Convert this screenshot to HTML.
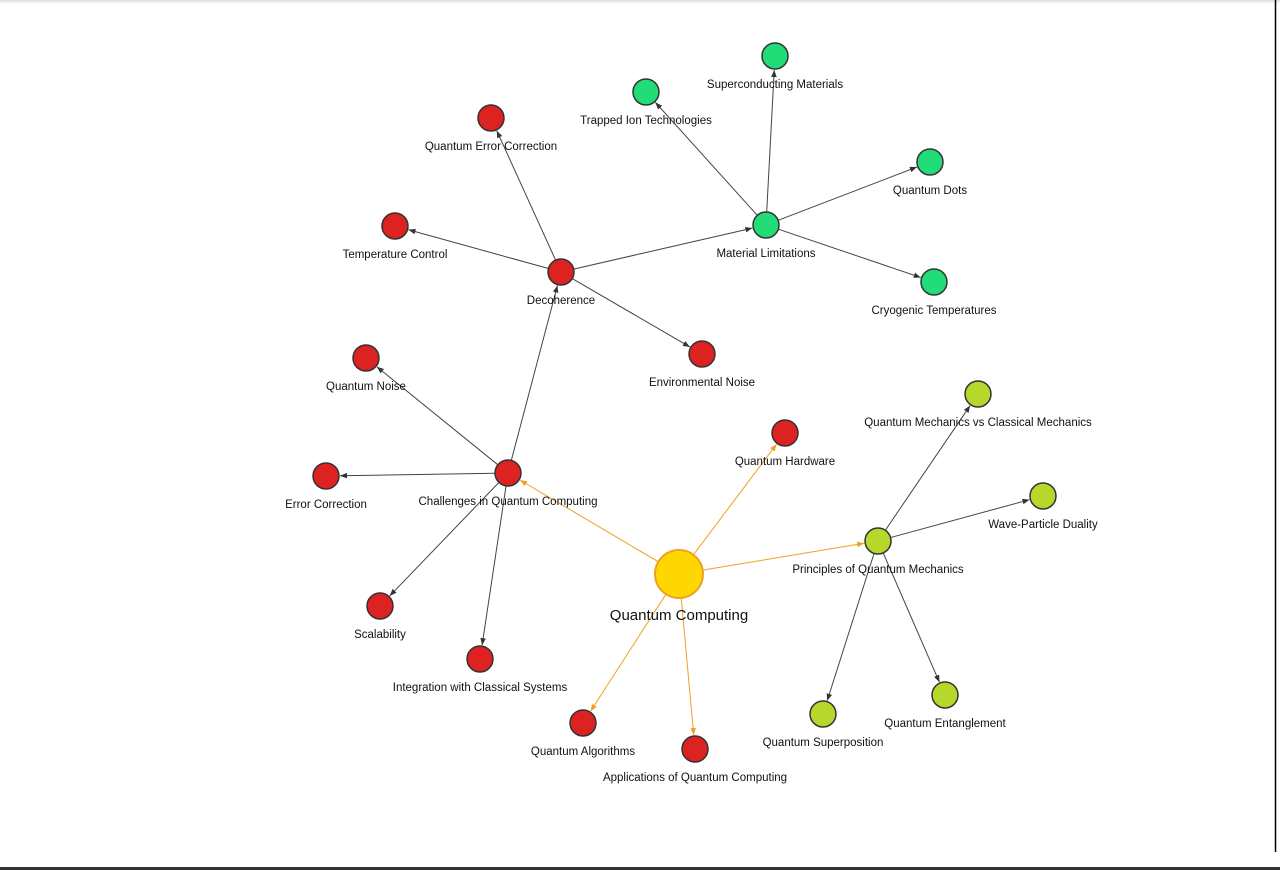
<!DOCTYPE html>
<html><head><meta charset="utf-8"><style>
html,body{margin:0;padding:0;background:#fff;width:1280px;height:870px;overflow:hidden}
svg{position:absolute;left:0;top:0}
text{font-family:"Liberation Sans",sans-serif;font-size:11.5px;fill:#111;text-anchor:middle}
</style></head><body>
<svg id="s" width="1280" height="870" xmlns="http://www.w3.org/2000/svg">
<defs>
<marker id="a" viewBox="0 0 10 10" refX="10" refY="5" markerWidth="7" markerHeight="7" orient="auto"><path d="M0,1 L10,5 L0,9 z" fill="#333"/></marker>
<marker id="o" viewBox="0 0 10 10" refX="10" refY="5" markerWidth="7" markerHeight="7" orient="auto"><path d="M0,1 L10,5 L0,9 z" fill="#f0a020"/></marker>
<linearGradient id="t" x1="0" y1="0" x2="0" y2="1"><stop offset="0" stop-color="#ddd"/><stop offset="1" stop-color="#fff"/></linearGradient>
</defs>
<rect x="0" y="0" width="1280" height="4" fill="url(#t)"/>
<line x1="1275.5" y1="0" x2="1275.5" y2="852" stroke="#000" stroke-width="1.5"/>
<rect x="0" y="867" width="1280" height="3" fill="#333"/>
<g id="e"></g><g id="n"></g>
</svg>
<script>
var R='#dd2222',G='#22dd77',Y='#b5d82a';
var N={
QC:[679,574,24,'#FFD700','Quantum Computing'],
CH:[508,473,13,R,'Challenges in Quantum Computing'],
DE:[561,272,13,R,'Decoherence'],
QEC:[491,118,13,R,'Quantum Error Correction'],
TC:[395,226,13,R,'Temperature Control'],
EN:[702,354,13,R,'Environmental Noise'],
ML:[766,225,13,G,'Material Limitations'],
TI:[646,92,13,G,'Trapped Ion Technologies'],
SC:[775,56,13,G,'Superconducting Materials'],
QD:[930,162,13,G,'Quantum Dots'],
CT:[934,282,13,G,'Cryogenic Temperatures'],
QN:[366,358,13,R,'Quantum Noise'],
EC:[326,476,13,R,'Error Correction'],
SCA:[380,606,13,R,'Scalability'],
IN:[480,659,13,R,'Integration with Classical Systems'],
QH:[785,433,13,R,'Quantum Hardware'],
PR:[878,541,13,Y,'Principles of Quantum Mechanics'],
QM:[978,394,13,Y,'Quantum Mechanics vs Classical Mechanics'],
WP:[1043,496,13,Y,'Wave-Particle Duality'],
QE:[945,695,13,Y,'Quantum Entanglement'],
QS:[823,714,13,Y,'Quantum Superposition'],
QA:[583,723,13,R,'Quantum Algorithms'],
AP:[695,749,13,R,'Applications of Quantum Computing']};
var E=[['QC','CH',1],['QC','QH',1],['QC','PR',1],['QC','QA',1],['QC','AP',1],
['CH','DE'],['CH','QN'],['CH','EC'],['CH','SCA'],['CH','IN'],
['DE','QEC'],['DE','TC'],['DE','EN'],['DE','ML'],
['ML','TI'],['ML','SC'],['ML','QD'],['ML','CT'],
['PR','QM'],['PR','WP'],['PR','QE'],['PR','QS']];
var ns='http://www.w3.org/2000/svg',eg=document.getElementById('e'),ng=document.getElementById('n');
function el(t,a,p){var e=document.createElementNS(ns,t);for(var k in a)e.setAttribute(k,a[k]);p.appendChild(e);return e}
E.forEach(function(x){var a=N[x[0]],b=N[x[1]];var dx=b[0]-a[0],dy=b[1]-a[1],d=Math.hypot(dx,dy);
el('line',{x1:a[0]+dx/d*a[2],y1:a[1]+dy/d*a[2],x2:b[0]-dx/d*(b[2]+1),y2:b[1]-dy/d*(b[2]+1),stroke:x[2]?'#f0a020':'#444','stroke-width':1,'marker-end':x[2]?'url(#o)':'url(#a)'},eg)});
for(var k in N){var v=N[k];
el('circle',{cx:v[0],cy:v[1],r:v[2],fill:v[3],stroke:k=='QC'?'#f0a020':'#333','stroke-width':k=='QC'?2:1.5},ng);
var t=el('text',{x:v[0],y:v[1]+v[2]+(k=='QC'?22:19)},ng);if(k=='QC')t.setAttribute('style','font-size:15px');t.textContent=v[4];}
</script>
</body></html>
